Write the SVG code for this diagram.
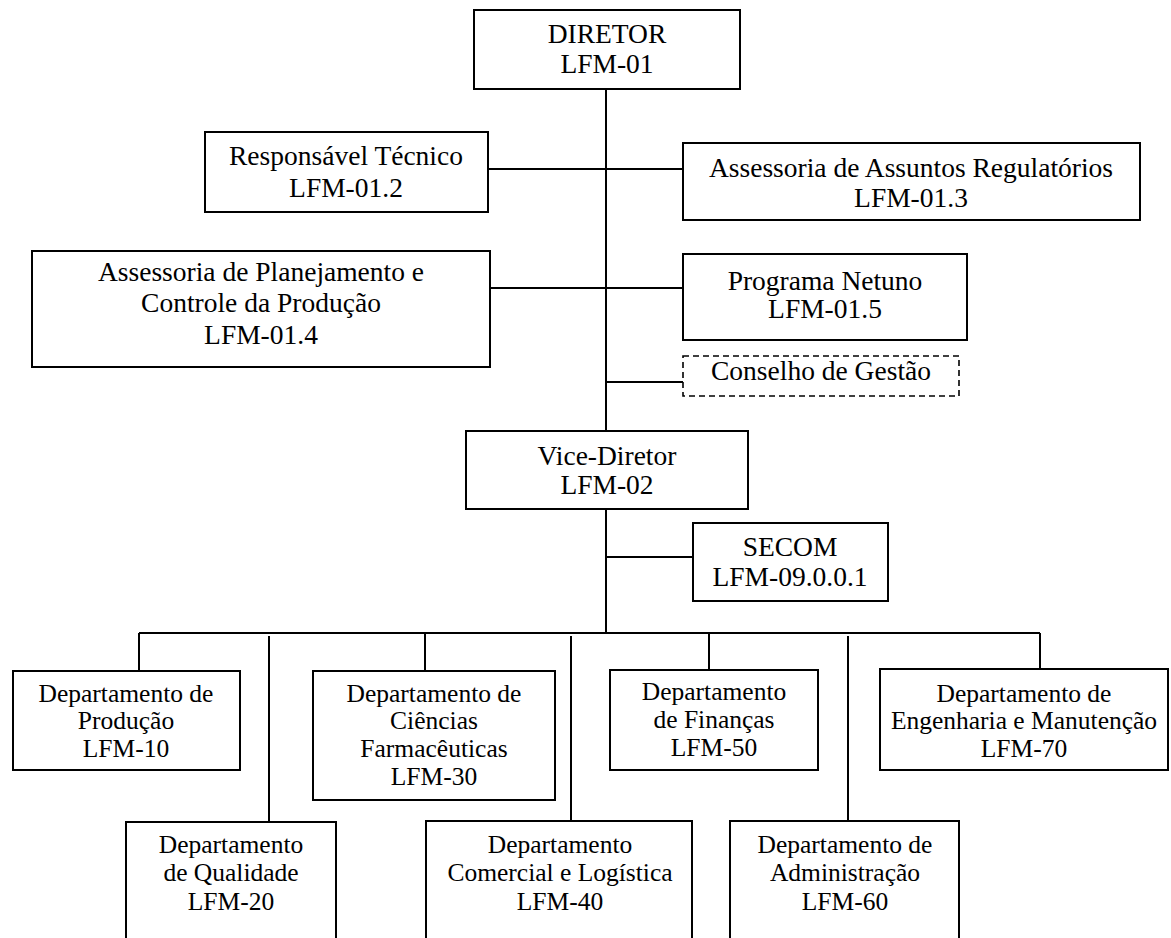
<svg xmlns="http://www.w3.org/2000/svg" width="1171" height="938" viewBox="0 0 1171 938">
<style>
.b{fill:#fff;stroke:#000;stroke-width:2}
.d{fill:#fff;stroke:#000;stroke-width:1.6;stroke-dasharray:6,4}
.c{fill:none;stroke:#000;stroke-width:2}
.t{font-size:27.5px}
.s{font-size:25.5px}
</style>
<rect width="1171" height="938" fill="#fff"/>
<g id="connectors">
<path class="c" d="M606 89V431M606 509V633"/>
<path class="c" d="M488 169H683"/>
<path class="c" d="M490 288H683"/>
<path class="c" d="M606 382H683"/>
<path class="c" d="M606 557H693"/>
<path class="c" d="M139 633H1040"/>
<path class="c" d="M139 633V671M425 633V671M709 633V670M1040 633V669"/>
<path class="c" d="M269 636V822M571 636V821M848 636V821"/>
</g>
<g font-family="'Liberation Serif', Tinos, 'Times New Roman', 'DejaVu Serif', serif" fill="#000" text-anchor="middle">
<g id="diretor"><rect class="b" x="474" y="10" width="266" height="79"/><text class="t" x="607" y="43">DIRETOR</text><text class="t" x="607" y="73">LFM-01</text></g>
<g id="resp-tecnico"><rect class="b" x="205" y="132" width="283" height="80"/><text class="t" x="346" y="165">Responsável Técnico</text><text class="t" x="346" y="197">LFM-01.2</text></g>
<g id="assuntos-regulatorios"><rect class="b" x="683" y="143" width="457" height="77"/><text class="t" x="911" y="177">Assessoria de Assuntos Regulatórios</text><text class="t" x="911" y="207">LFM-01.3</text></g>
<g id="planejamento"><rect class="b" x="32" y="251" width="458" height="116"/><text class="t" x="261" y="281">Assessoria de Planejamento e</text><text class="t" x="261" y="312">Controle da Produção</text><text class="t" x="261" y="344">LFM-01.4</text></g>
<g id="netuno"><rect class="b" x="683" y="254" width="284" height="86"/><text class="t" x="825" y="290">Programa Netuno</text><text class="t" x="825" y="318">LFM-01.5</text></g>
<g id="conselho"><rect class="d" x="683" y="356" width="276" height="40"/><text class="t" x="821" y="380">Conselho de Gestão</text></g>
<g id="vice-diretor"><rect class="b" x="466" y="431" width="282" height="78"/><text class="t" x="607" y="465">Vice-Diretor</text><text class="t" x="607" y="494">LFM-02</text></g>
<g id="secom"><rect class="b" x="693" y="523" width="195" height="78"/><text class="t" x="790" y="556">SECOM</text><text class="t" x="790" y="586">LFM-09.0.0.1</text></g>
<g id="producao"><rect class="b" x="13" y="671" width="227" height="99"/><text class="s" x="126" y="702">Departamento de</text><text class="s" x="126" y="729">Produção</text><text class="s" x="126" y="757">LFM-10</text></g>
<g id="ciencias"><rect class="b" x="313" y="671" width="242" height="129"/><text class="s" x="434" y="702">Departamento de</text><text class="s" x="434" y="729">Ciências</text><text class="s" x="434" y="757">Farmacêuticas</text><text class="s" x="434" y="785">LFM-30</text></g>
<g id="financas"><rect class="b" x="610" y="670" width="208" height="100"/><text class="s" x="714" y="700">Departamento</text><text class="s" x="714" y="728">de Finanças</text><text class="s" x="714" y="756">LFM-50</text></g>
<g id="engenharia"><rect class="b" x="880" y="669" width="288" height="101"/><text class="s" x="1024" y="702">Departamento de</text><text class="s" x="1024" y="729">Engenharia e Manutenção</text><text class="s" x="1024" y="757">LFM-70</text></g>
<g id="qualidade"><rect class="b" x="126" y="822" width="210" height="140"/><text class="s" x="231" y="853">Departamento</text><text class="s" x="231" y="881">de Qualidade</text><text class="s" x="231" y="910">LFM-20</text></g>
<g id="comercial"><rect class="b" x="426" y="821" width="266" height="140"/><text class="s" x="560" y="853">Departamento</text><text class="s" x="560" y="881">Comercial e Logística</text><text class="s" x="560" y="910">LFM-40</text></g>
<g id="administracao"><rect class="b" x="730" y="821" width="229" height="140"/><text class="s" x="845" y="853">Departamento de</text><text class="s" x="845" y="881">Administração</text><text class="s" x="845" y="910">LFM-60</text></g>
</g>
</svg>
